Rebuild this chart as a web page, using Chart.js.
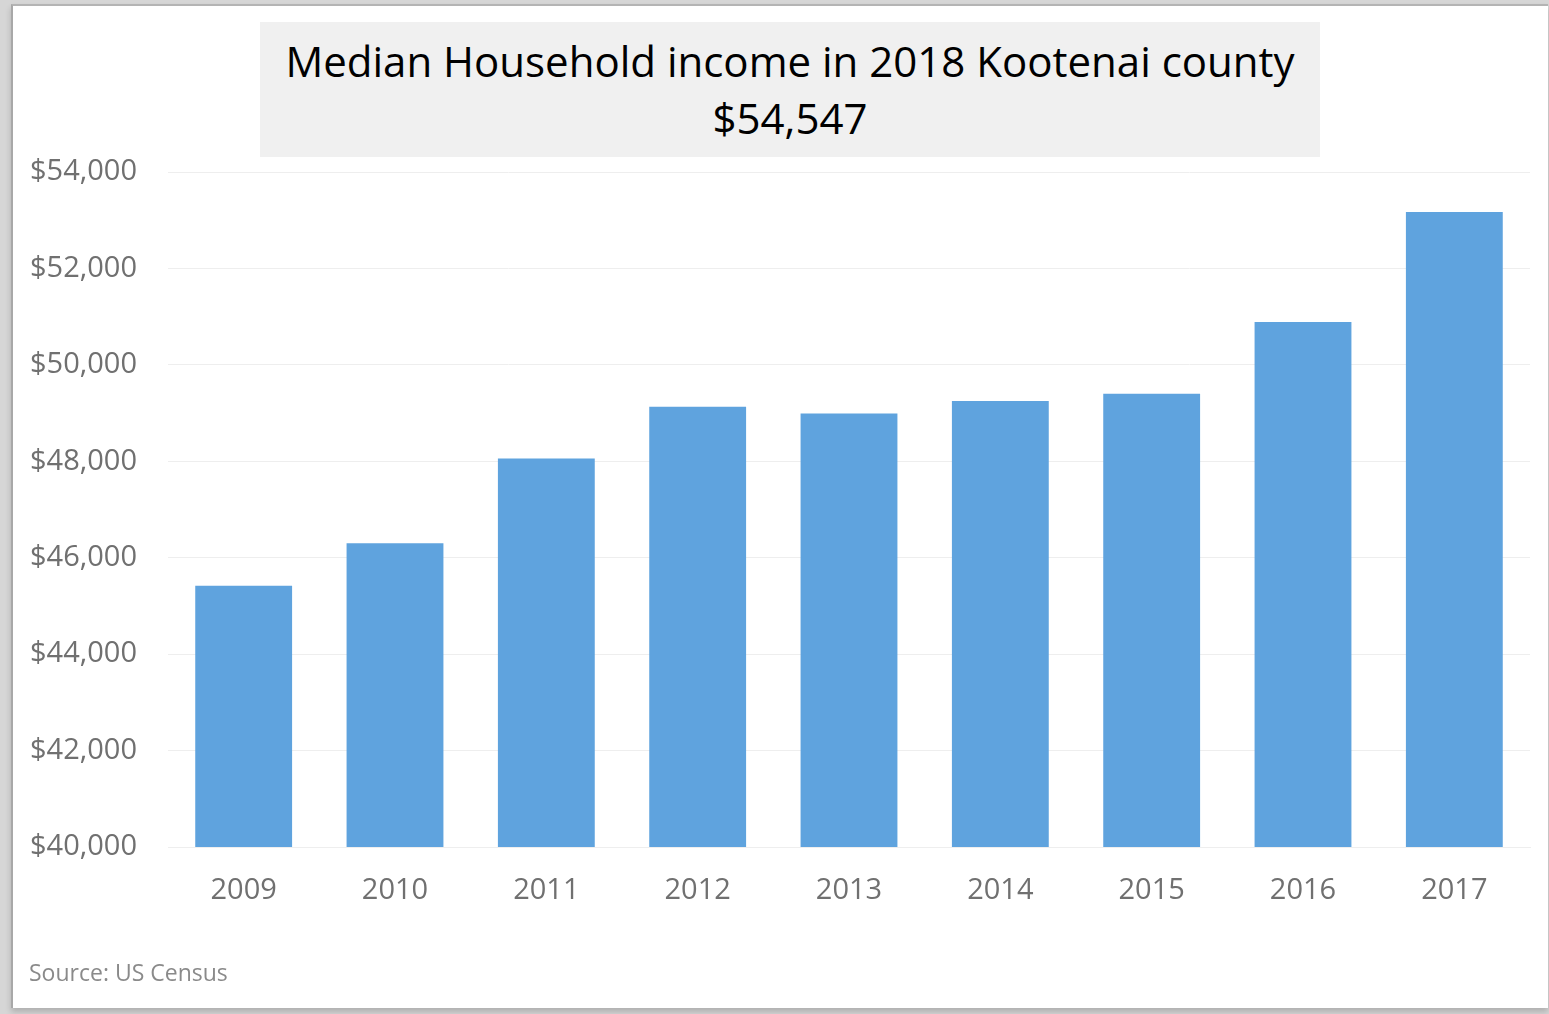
<!DOCTYPE html>
<html>
<head>
<meta charset="utf-8">
<script src="https://cdn.jsdelivr.net/npm/chart.js@4/dist/chart.umd.min.js"></script>
<style>
  html, body { margin: 0; padding: 0; }
  body { width: 1549px; height: 1014px; background: #d6d6d6; position: relative; overflow: hidden; font-family: "Open Sans", sans-serif; }
  #panel { position: absolute; left: 11px; top: 4px; width: 1535px; height: 1002px; background: #fff;
           border-left: 2px solid #a8a8a8; border-top: 2px solid #b4b4b4;
           box-shadow: 0 4px 6px rgba(0,0,0,0.18); }
  #wrap { position: absolute; left: 0; top: 0; width: 1549px; height: 1014px; }
  #title { position: absolute; left: 260px; top: 22px; width: 1060px; height: 135px; background: #f0f0f0;
           text-align: center; color: #000; font-size: 42px; line-height: 57px; padding-top: 10px; box-sizing: border-box; }
  #source { position: absolute; left: 29px; top: 956px; font-size: 23px; color: #8a8a8a; }
</style>
</head>
<body>
<div id="panel"></div>
<div id="wrap"><canvas id="c" width="1549" height="1014"></canvas></div>
<div id="title">Median Household income in 2018 Kootenai county<br>$54,547</div>
<div id="source">Source: US Census</div>
<script>
// Median household income, Kootenai County
const years = ['2009', '2010', '2011', '2012', '2013', '2014', '2015', '2016', '2017'];
const medianIncome = [45420, 46300, 48060, 49130, 48990, 49250, 49400, 50890, 53170];
const yMin = 40000;
const yMax = 54000;
const yStep = 2000;

const fmt = v => '$' + v.toLocaleString('en-US');

new Chart(document.getElementById('c'), {
  type: 'bar',
  data: {
    labels: years,
    datasets: [{
      data: medianIncome,
      backgroundColor: '#5fa3de',
      borderWidth: 0,
      categoryPercentage: 1,
      barPercentage: 0.64
    }]
  },
  options: {
    responsive: false,
    animation: false,
    events: [],
    layout: { padding: { left: 0, right: 19, top: 172, bottom: 67 } },
    plugins: { legend: { display: false }, tooltip: { enabled: false }, title: { display: false } },
    scales: {
      x: {
        grid: { display: false, drawTicks: false },
        border: { display: true, color: '#eeeeee', width: 1 },
        ticks: { color: '#707070', font: { family: 'Open Sans', size: 29 }, padding: 26, maxRotation: 0 },
        afterFit: s => { s.height = 100; }
      },
      y: {
        min: yMin, max: yMax,
        grid: { color: '#eeeeee', drawTicks: false, lineWidth: 1 },
        border: { display: false },
        ticks: { stepSize: yStep, color: '#707070', font: { family: 'Open Sans', size: 29 }, padding: 31,
                 callback: v => fmt(v) },
        afterFit: s => { s.width = 168; }
      }
    }
  }
});
</script>
</body>
</html>
